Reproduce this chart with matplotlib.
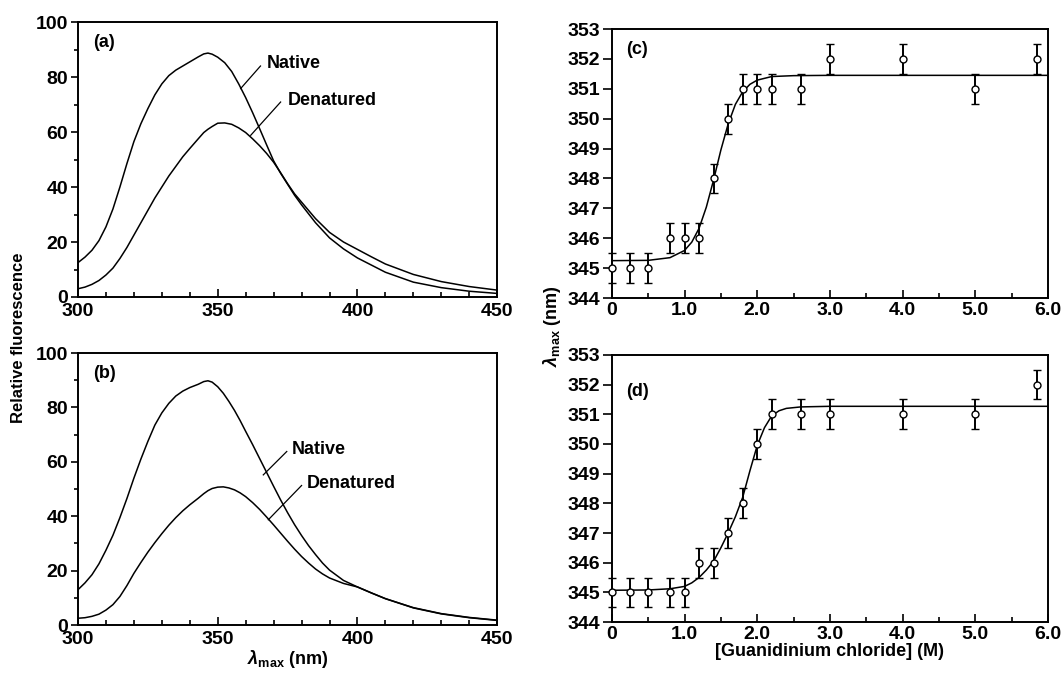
import matplotlib
matplotlib.use("Agg")
import matplotlib.pyplot as plt
from matplotlib.ticker import MultipleLocator, FixedLocator

plt.rcParams['font.family'] = ['Liberation Sans', 'DejaVu Sans']
plt.rcParams['font.weight'] = 'bold'
plt.rcParams['mathtext.fontset'] = 'custom'
plt.rcParams['mathtext.rm'] = 'Liberation Sans:bold'
plt.rcParams['mathtext.it'] = 'Liberation Sans:italic:bold'
plt.rcParams['mathtext.bf'] = 'Liberation Sans:bold'

# emission spectra, panel (a)
wl_a = [300, 302.5, 305, 307.5, 310, 312.5, 315, 317.5, 320, 322.5, 325, 327.5, 330,
        332.5, 335, 337.5, 340, 343, 345, 346.5, 348, 350, 352.5, 355, 357.5, 360,
        362.5, 365, 367.5, 370, 372.5, 375, 377.5, 380, 385, 390, 395, 400, 405, 410,
        420, 430, 440, 450]
native_a = [12.5, 14.5, 17, 20.5, 25.5, 32, 40, 48.5, 56.5, 63, 68.5, 73.5, 77.5,
            80.5, 82.5, 84, 85.5, 87.3, 88.4, 88.7, 88.3, 87.2, 85.2, 82, 77.5, 72.5,
            67, 61.2, 55.3, 49.5, 45, 41, 37, 33.5, 27, 21.5, 17.5, 14.2, 11.6, 9.0,
            5.4, 3.4, 2.1, 1.3]
denat_a = [3, 3.6, 4.6, 6, 8, 10.5, 14, 18, 22.5, 27, 31.5, 36, 40,
           44, 47.5, 51, 54, 57.5, 59.8, 61, 62, 63.2, 63.3, 62.8, 61.5, 59.8,
           57.5, 55, 52.2, 49, 45.2, 41.2, 37.5, 34.5, 28.5, 23.5, 20, 17.3, 14.6, 12.0,
           8.2, 5.6, 3.8, 2.5]

# emission spectra, panel (b)
wl_b = [300, 302.5, 305, 307.5, 310, 312.5, 315, 317.5, 320, 322.5, 325, 327.5, 330,
        332.5, 335, 337.5, 340, 343, 345, 346.5, 348, 350, 352, 354, 356, 358,
        360, 362.5, 365, 367.5, 370, 372.5, 375, 377.5, 380, 382.5, 385, 387.5, 390, 395,
        400, 405, 410, 420, 430, 440, 450]
native_b = [13, 15.5, 18.5, 22.5, 27.5, 33, 39.5, 46.5, 54, 61, 67.5, 73.5, 78,
            81.5, 84.2, 86, 87.3, 88.5, 89.5, 89.8, 89.3, 87.6, 85.2, 82.2, 78.9, 75.2,
            71.2, 66.3, 61.2, 56.1, 51, 46, 41.3, 36.9, 32.9, 29.2, 25.9, 22.8, 20.2, 16.4,
            14, 11.8, 9.7, 6.4, 4.2, 2.8, 1.8]
denat_b = [2.5, 2.7, 3.2, 4, 5.5, 7.5, 10.5, 14.5, 19, 23, 26.8, 30.3, 33.6,
           36.7, 39.5, 42, 44.2, 46.6, 48.3, 49.4, 50.2, 50.7, 50.8, 50.4, 49.7, 48.6,
           47.2, 45.0, 42.5, 39.7, 36.8, 33.8, 30.8, 27.9, 25.2, 22.8, 20.6, 18.8, 17.3, 15.3,
           14, 11.8, 9.7, 6.3, 4.1, 2.7, 1.7]

# lambda max vs GdmCl, panels (c) and (d)
gdm = [0, 0.25, 0.5, 0.8, 1.0, 1.2, 1.4, 1.6, 1.8, 2.0, 2.2, 2.6, 3.0, 4.0, 5.0, 5.85]
lam_c = [345, 345, 345, 346, 346, 346, 348, 350, 351, 351, 351, 351, 352, 352, 351, 352]
lam_d = [345, 345, 345, 345, 345, 346, 346, 347, 348, 350, 351, 351, 351, 351, 351, 352]
lam_err = 0.5

# fitted transition curves
fit_x_c = [0, 0.5, 0.8, 1.0, 1.1, 1.2, 1.3, 1.4, 1.5, 1.6, 1.7, 1.8, 1.9, 2.0, 2.2, 2.5, 3.0, 6.0]
fit_y_c = [345.25, 345.26, 345.35, 345.59, 345.87, 346.33, 347.04, 347.95, 348.95, 349.82,
           350.48, 350.90, 351.15, 351.29, 351.41, 351.44, 351.45, 351.45]
fit_x_d = [0, 0.5, 0.8, 1.0, 1.1, 1.2, 1.3, 1.4, 1.5, 1.6, 1.7, 1.8, 1.9, 2.0, 2.1, 2.2,
           2.3, 2.4, 2.6, 3.0, 6.0]
fit_y_d = [345.07, 345.08, 345.12, 345.2, 345.32, 345.5, 345.75, 346.05, 346.5, 347.0,
           347.55, 348.2, 349.1, 349.95, 350.55, 350.95, 351.12, 351.2, 351.25, 351.27, 351.27]

FS_TICK = 14
FS = 13

fig = plt.figure(figsize=(10.64, 6.75), dpi=100)
ax_a = fig.add_axes([0.0733, 0.560, 0.394, 0.4074])
ax_b = fig.add_axes([0.0733, 0.074, 0.394, 0.403])
ax_c = fig.add_axes([0.575, 0.5585, 0.410, 0.3985])
ax_d = fig.add_axes([0.575, 0.0785, 0.410, 0.3956])


def style(ax, ylen, xpad):
    for s in ax.spines.values():
        s.set_linewidth(1.4)
    ax.tick_params(which='both', labelsize=FS_TICK, width=1.2)
    ax.tick_params(axis='x', which='major', direction='in', length=6, pad=xpad)
    ax.tick_params(axis='x', which='minor', direction='in', length=3.5)
    ax.tick_params(axis='y', which='major', direction='out', length=ylen, pad=2)
    ax.tick_params(axis='y', which='minor', direction='out', length=3)
    for lab in ax.get_xticklabels() + ax.get_yticklabels():
        lab.set_fontweight('bold')


# spectra panels
spec = [(ax_a, wl_a, native_a, denat_a, '(a)',
         ((367.7, 84.8), (365.3, 84), (358.2, 75.8)),
         ((374.9, 71.3), (372.5, 70.9), (361.8, 58.8))),
        (ax_b, wl_b, native_b, denat_b, '(b)',
         ((376.5, 64.4), (374.7, 63.8), (366.3, 55.2)),
         ((381.8, 52.1), (380.0, 51.3), (368.1, 38.7)))]
for ax, wl, nat, den, tag, nat_lbl, den_lbl in spec:
    ax.plot(wl, nat, color='black', lw=1.1)
    ax.plot(wl, den, color='black', lw=1.1)
    ax.set_xlim(300, 450)
    ax.set_ylim(0, 100)
    ax.xaxis.set_major_locator(MultipleLocator(50))
    ax.xaxis.set_minor_locator(MultipleLocator(10))
    ax.yaxis.set_major_locator(MultipleLocator(20))
    ax.yaxis.set_minor_locator(MultipleLocator(10))
    style(ax, 5, 4.5)
    ax.text(305.5, 92.6, tag, fontsize=FS, fontweight='bold', va='center')
    for txt, (pos, p0, p1) in (('Native', nat_lbl), ('Denatured', den_lbl)):
        ax.text(pos[0], pos[1], txt, fontsize=FS, fontweight='bold', va='center')
        ax.plot([p0[0], p1[0]], [p0[1], p1[1]], color='black', lw=0.9)

ax_b.set_xlabel(r'$\mathit{\lambda}_{\mathrm{max}}$ (nm)', fontsize=FS, fontweight='bold', labelpad=0)
fig.text(0.017, 0.5, 'Relative fluorescence', rotation=90, fontsize=12,
         fontweight='bold', ha='center', va='center')

# transition panels
for ax, lam, fx, fy, tag, ty in ((ax_c, lam_c, fit_x_c, fit_y_c, '(c)', 352.33),
                                 (ax_d, lam_d, fit_x_d, fit_y_d, '(d)', 351.76)):
    ax.plot(fx, fy, color='black', lw=1.1)
    ax.errorbar(gdm, lam, yerr=lam_err, fmt='o', mfc='white', mec='black', ms=5,
                mew=1.0, ecolor='black', elinewidth=1.4, capsize=3.2, capthick=1.4,
                clip_on=False, zorder=3)
    ax.set_xlim(0, 6.0)
    ax.set_ylim(344, 353)
    ax.xaxis.set_major_locator(FixedLocator([0, 1, 2, 3, 4, 5, 6]))
    ax.set_xticklabels(['0', '1.0', '2.0', '3.0', '4.0', '5.0', '6.0'])
    ax.xaxis.set_minor_locator(MultipleLocator(0.5))
    ax.yaxis.set_major_locator(MultipleLocator(1))
    style(ax, 6.5, 3)
    ax.text(0.2, ty, tag, fontsize=FS, fontweight='bold', va='center')

ax_d.set_xlabel('[Guanidinium chloride] (M)', fontsize=FS, fontweight='bold', labelpad=0)
fig.text(0.519, 0.517, r'$\mathit{\lambda}_{\mathrm{max}}$ (nm)', rotation=90,
         fontsize=FS, fontweight='bold', ha='center', va='center')

fig.savefig('out.png', dpi=100)
